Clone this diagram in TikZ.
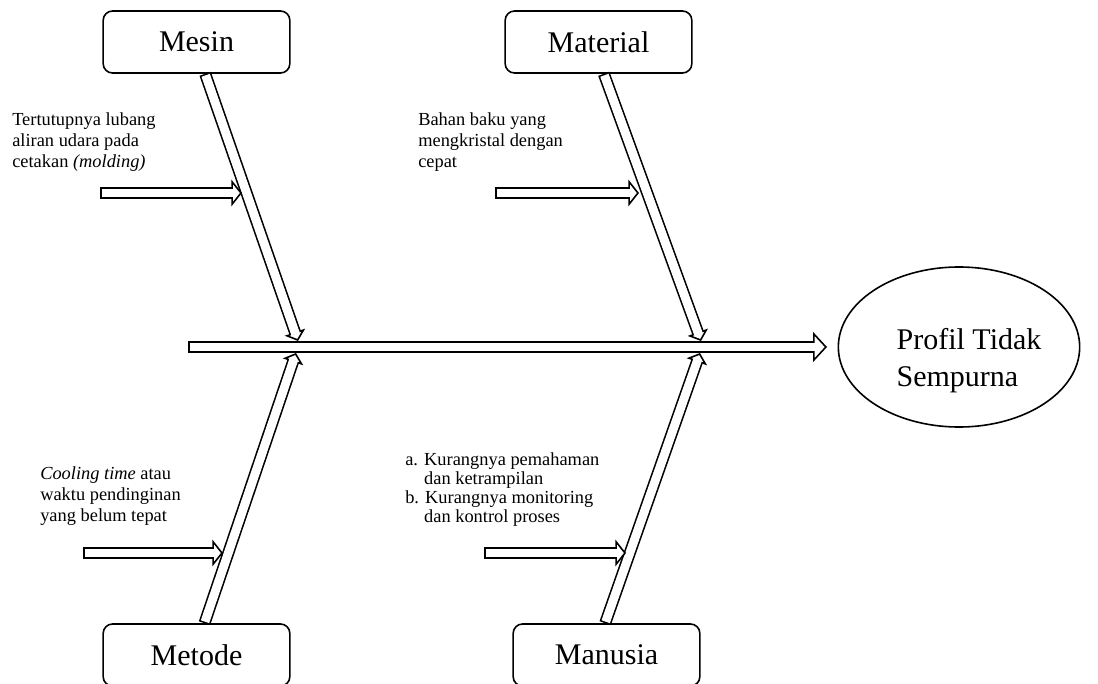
\documentclass[tikz,border=0pt]{standalone}
\usepackage{fontspec}
\setmainfont{Liberation Serif}
\usetikzlibrary{arrows.meta,shapes.geometric,calc}
\tikzset{
  cause/.style={rectangle, rounded corners=7pt, draw, line width=1.2pt,
                minimum width=140pt, minimum height=46.5pt, font=\fontsize{22.5}{26}\selectfont},
  effect/.style={ellipse, draw, line width=1.2pt, minimum width=181pt, minimum height=120pt,
                 inner sep=0pt, font=\fontsize{22.5}{27.7}\selectfont},
  note/.style={anchor=north west, inner sep=0pt, align=left, font=\fontsize{13.8}{16}\selectfont},
  bone/.style 2 args={line width=9pt, -{Triangle[length=#2, width=#1, line width=1.2pt, fill=white]},
                      postaction={draw=white, line width=6.6pt, -, shorten <=1.2pt, shorten >=#2-1.5pt}}
}
\begin{document}
\begin{tikzpicture}[x=0.75pt, y=-0.75pt]
\useasboundingbox (0,0) rectangle (1098,684);
\node[cause] (mesin) at (196.5,42) {Mesin};
\node[cause] (material) at (598.5,42) {Material};
\node[cause] (metode) at (196.5,655) {Metode};
\node[cause] (manusia) at (606.5,655) {Manusia};
\node[effect] (profil) at (959,347)
  {\begin{tabular}{@{\hspace{15pt}}l@{}}\rule{0pt}{40pt}Profil Tidak\\Sempurna\end{tabular}};
\coordinate (tail) at (188,347);
\coordinate (head) at (827,347);
\coordinate (jMesin) at (298,341);
\coordinate (jMaterial) at (701,341);
\coordinate (jMetode) at (296,353);
\coordinate (jManusia) at (700,353);
\coordinate (sMesin) at (100,193);
\coordinate (eMesin) at (242,193);
\coordinate (sMaterial) at (495,193);
\coordinate (eMaterial) at (639,193);
\coordinate (sMetode) at (83,553);
\coordinate (eMetode) at (223,553);
\coordinate (sManusia) at (484,553);
\coordinate (eManusia) at (626,553);
\draw[bone={22.5pt}{10.5pt}] (tail) -- (head);
\draw[bone={16pt}{7pt}] ([xshift=6.5pt]mesin.south) -- (jMesin);
\draw[bone={16pt}{7pt}] ([xshift=4pt]material.south) -- (jMaterial);
\draw[bone={16pt}{7pt}] ([xshift=6pt]metode.north) -- (jMetode);
\draw[bone={16pt}{7pt}] ([xshift=-1pt]manusia.north) -- (jManusia);
\draw[bone={20pt}{8pt}] (sMesin) -- (eMesin); \draw[bone={20pt}{8pt}] (sMaterial) -- (eMaterial);
\draw[bone={20pt}{8pt}] (sMetode) -- (eMetode); \draw[bone={20pt}{8pt}] (sManusia) -- (eManusia);
\node[note] (tMesin) at (12,112) {Tertutupnya lubang\\aliran udara pada\\cetakan \textit{(molding)}};
\node[note] (tMaterial) at (418,112) {Bahan baku yang\\mengkristal dengan\\cepat};
\node[note] (tMetode) at (40,466) {\textit{Cooling time} atau\\waktu pendinginan\\yang belum tepat};
\node[note, font=\fontsize{13.8}{14.4}\selectfont] (tManusia) at (405,452)
  {a. Kurangnya pemahaman\\\hphantom{a. }dan ketrampilan\\b. Kurangnya monitoring\\\hphantom{a. }dan kontrol proses};
\end{tikzpicture}
\end{document}
